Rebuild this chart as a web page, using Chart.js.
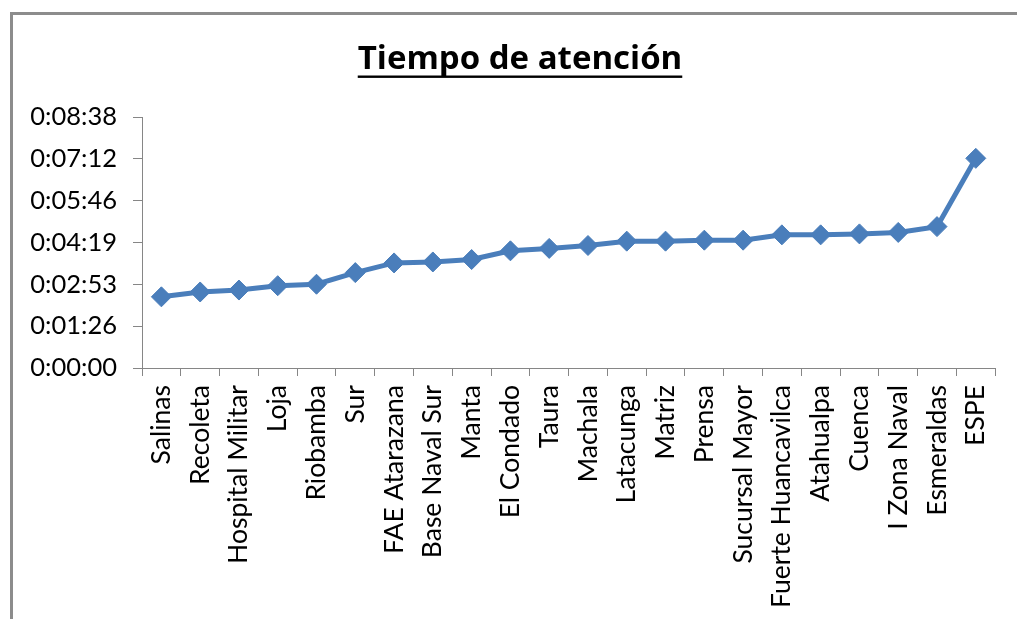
<!DOCTYPE html>
<html>
<head>
<meta charset="utf-8">
<script src="https://cdn.jsdelivr.net/npm/chart.js@4.4.0/dist/chart.umd.min.js"></script>
<style>
  html, body { margin: 0; padding: 0; background: #fff; overflow: hidden; }
  canvas { display: block; }
</style>
</head>
<body>
<canvas id="chart" width="1017" height="619"></canvas>
<script>
// Sites, ordered by average attention time
const sites = [
  'Salinas', 'Recoleta', 'Hospital Militar', 'Loja', 'Riobamba', 'Sur',
  'FAE Atarazana', 'Base Naval Sur', 'Manta', 'El Condado', 'Taura', 'Machala',
  'Latacunga', 'Matriz', 'Prensa', 'Sucursal Mayor', 'Fuerte Huancavilca',
  'Atahualpa', 'Cuenca', 'I Zona Naval', 'Esmeraldas', 'ESPE'
];

// Average attention time per site, in seconds
const attentionSeconds = [
  147, 157, 161, 170, 173, 197,
  217, 219, 224, 242, 247, 253,
  262, 262, 264, 264, 275,
  275, 277, 280, 292, 433
];

// Y axis ticks: one every 0.001 day (86.4 s)
const yTickStep = 86.4;
const yTickLabels = ['0:00:00', '0:01:26', '0:02:53', '0:04:19', '0:05:46', '0:07:12', '0:08:38'];

const chartTitle = 'Tiempo de atención';

const FONT = 'Lato';
const TITLE_FONT = 'Open Sans';
const AXIS_COLOR = '#868686';
const FRAME_COLOR = '#8c8c8c';
const LINE_COLOR = '#4a7ebb';

// Outer chart frame: only the top and left edges fall inside the page
const framePlugin = {
  id: 'frame',
  beforeDraw(chart) {
    const ctx = chart.ctx;
    ctx.save();
    ctx.fillStyle = '#fff';
    ctx.fillRect(0, 0, chart.width, chart.height);
    ctx.strokeStyle = FRAME_COLOR;
    ctx.lineWidth = 3;
    ctx.beginPath();
    ctx.moveTo(11.5, chart.height + 5);
    ctx.lineTo(11.5, 13.5);
    ctx.lineTo(chart.width + 5, 13.5);
    ctx.stroke();
    ctx.restore();
  }
};

// Bold underlined title
const titlePlugin = {
  id: 'underlinedTitle',
  afterDraw(chart) {
    const ctx = chart.ctx;
    ctx.save();
    ctx.font = 'bold 33px "' + TITLE_FONT + '"';
    ctx.fillStyle = '#000';
    ctx.textAlign = 'center';
    ctx.textBaseline = 'alphabetic';
    const cx = 520, base = 69;
    ctx.fillText(chartTitle, cx, base);
    const w = ctx.measureText(chartTitle).width;
    ctx.fillRect(cx - w / 2, 75.5, w, 2.4);
    ctx.restore();
  }
};

function build() {
  new Chart(document.getElementById('chart'), {
    type: 'line',
    data: {
      labels: sites,
      datasets: [{
        data: attentionSeconds,
        borderColor: LINE_COLOR,
        backgroundColor: LINE_COLOR,
        borderWidth: 5,
        tension: 0,
        pointStyle: 'rectRot',
        pointRadius: 10,
        pointBackgroundColor: LINE_COLOR,
        pointBorderColor: LINE_COLOR,
        pointBorderWidth: 1,
        clip: false
      }]
    },
    options: {
      responsive: false,
      animation: false,
      devicePixelRatio: 1,
      layout: { padding: { left: 0, top: 117, right: 18, bottom: 0 }, autoPadding: false },
      plugins: {
        legend: { display: false },
        tooltip: { enabled: false },
        title: { display: false }
      },
      scales: {
        x: {
          type: 'category',
          offset: true,
          grid: { offset: true, drawOnChartArea: false, drawTicks: true, tickLength: 8, color: AXIS_COLOR, lineWidth: 1 },
          border: { color: AXIS_COLOR, width: 1 },
          ticks: {
            autoSkip: false, minRotation: 90, maxRotation: 90, padding: 9,
            color: '#000', font: { family: FONT, size: 26.5 }
          },
          afterFit(scale) { scale.height = 251; }
        },
        y: {
          min: 0,
          max: yTickStep * (yTickLabels.length - 1),
          grid: { drawOnChartArea: false, drawTicks: true, tickLength: 9, color: AXIS_COLOR, lineWidth: 1 },
          border: { color: AXIS_COLOR, width: 1 },
          afterBuildTicks(scale) {
            scale.ticks = yTickLabels.map((_, i) => ({ value: i * yTickStep }));
          },
          ticks: {
            padding: 16,
            color: '#000',
            font: { family: FONT, size: 25.5 },
            callback: (v, i) => yTickLabels[i]
          },
          afterFit(scale) { scale.width = 142; }
        }
      }
    },
    plugins: [framePlugin, titlePlugin]
  });
}

Promise.all([
  document.fonts.load('26px ' + FONT),
  document.fonts.load('bold 33px "' + TITLE_FONT + '"')
]).then(build, build);
</script>
</body>
</html>
